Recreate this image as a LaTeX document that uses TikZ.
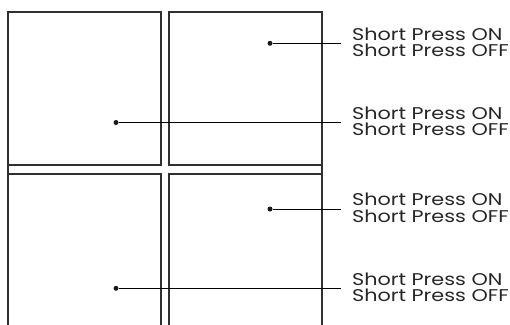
\documentclass[tikz,border=0pt]{standalone}
\usepackage{fontspec}
\setmainfont{Poppins}[FakeStretch=1.22]
\usepackage{tikz}
\usetikzlibrary{positioning}
\definecolor{frameline}{HTML}{303030}
\definecolor{textcol}{HTML}{262626}

\begin{document}
\begin{tikzpicture}[x=1pt,y=-1pt,
  panel/.style={draw=frameline,line width=1.8pt},
  dot/.style={circle,fill=black!90,inner sep=0pt,minimum size=5pt},
  callout/.style={anchor=west,align=left,inner xsep=11pt,inner ysep=0pt,
    text=textcol,font=\fontsize{17}{16.3}\selectfont}]
\useasboundingbox (0,0) rectangle (510,324);

% --- Panels: upper row ---
\draw[panel] (8,12.3) rectangle (161,165);
\draw[panel] (169,12.3) rectangle (322,165);

% --- Panels: lower row (cut off at the bottom) ---
\draw[panel] (8,174) rectangle (161,340);
\draw[panel] (169,174) rectangle (322,340);

% Outer edges run through the gap
\draw[panel] (8,12.3) -- (8,340);
\draw[panel,line width=2.4pt] (322,12.3) -- (322,340);

% --- Dots and their labels ---
\foreach \n/\x/\y in {1/270/43.3,2/116/122.5,3/270/209,4/116/288.3} {
  \node[dot] (dot\n) at (\x,\y) {};
  \node[callout] (text\n) at (341,\y-1.2) {Short Press ON\\Short Press OFF};
  \draw[line width=0.8pt] (dot\n) -- (dot\n -| text\n.west);
}

\end{tikzpicture}
\end{document}
